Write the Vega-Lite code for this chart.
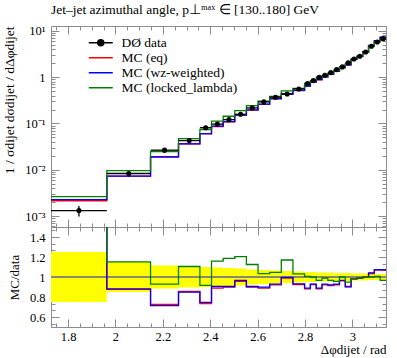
{
  "$schema": "https://vega.github.io/schema/vega-lite/v6.json",
  "autosize": {"type": "pad"},
  "padding": {"left": 2, "top": 2, "right": 13, "bottom": 3},
  "background": "white",
  "title": {"text": "Jet–jet azimuthal angle, p⊥ᵐᵃˣ ∈ [130..180] GeV", "anchor": "start", "frame": "group", "font": "Liberation Serif", "fontSize": 13.5, "fontWeight": "normal", "color": "black", "offset": 8},
  "config": {
    "view": {"stroke": "#8c8c8c", "strokeWidth": 1},
    "axis": {"domain": false, "grid": false, "tickColor": "#8c8c8c", "tickWidth": 1, "labelFont": "Liberation Serif", "labelFontSize": 12.5, "labelColor": "black", "titleFont": "Liberation Serif", "titleFontSize": 13, "titleFontWeight": "normal", "titleColor": "black"}
  },
  "datasets": {
    "h": [
      {"lo":1.7279,"hi":1.9635,"mid":1.8457,"d":0.00131,"dlo":0.00098,"dhi":0.00164,"rlo":0.75,"rhi":1.25,"eq":0.00214,"wz":0.00227,"ll":0.00262,"req":1.63,"rwz":1.73,"rll":2.0},
      {"lo":1.9635,"hi":2.148,"mid":2.0558,"d":0.0083,"dlo":0.00706,"dhi":0.00955,"rlo":0.85,"rhi":1.15,"eq":0.0073,"wz":0.00729,"ll":0.00956,"req":0.88,"rwz":0.878,"rll":1.152},
      {"lo":2.148,"hi":2.266,"mid":2.207,"d":0.0265,"dlo":0.02345,"dhi":0.02955,"rlo":0.885,"rhi":1.115,"eq":0.01924,"wz":0.01889,"ll":0.02462,"req":0.726,"rwz":0.713,"rll":0.929},
      {"lo":2.266,"hi":2.3562,"mid":2.3111,"d":0.0427,"dlo":0.03822,"dhi":0.04718,"rlo":0.895,"rhi":1.105,"eq":0.03651,"wz":0.03621,"ll":0.04718,"req":0.855,"rwz":0.848,"rll":1.105},
      {"lo":2.3562,"hi":2.4053,"mid":2.3808,"d":0.081,"dlo":0.0729,"dhi":0.0891,"rlo":0.9,"rhi":1.1,"eq":0.05937,"wz":0.06043,"ll":0.0742,"req":0.733,"rwz":0.746,"rll":0.916},
      {"lo":2.4053,"hi":2.4544,"mid":2.4299,"d":0.097,"dlo":0.08779,"dhi":0.1062,"rlo":0.905,"rhi":1.095,"eq":0.08614,"wz":0.08779,"ll":0.1124,"req":0.888,"rwz":0.905,"rll":1.159},
      {"lo":2.4544,"hi":2.5035,"mid":2.479,"d":0.121,"dlo":0.1101,"dhi":0.1319,"rlo":0.91,"rhi":1.09,"eq":0.1089,"wz":0.1095,"ll":0.1435,"req":0.9,"rwz":0.905,"rll":1.186},
      {"lo":2.5035,"hi":2.5525,"mid":2.528,"d":0.158,"dlo":0.1446,"dhi":0.1714,"rlo":0.915,"rhi":1.085,"eq":0.151,"wz":0.1526,"ll":0.1901,"req":0.956,"rwz":0.966,"rll":1.203},
      {"lo":2.5525,"hi":2.6016,"mid":2.5771,"d":0.217,"dlo":0.2007,"dhi":0.2333,"rlo":0.925,"rhi":1.075,"eq":0.1953,"wz":0.1964,"ll":0.2441,"req":0.9,"rwz":0.905,"rll":1.125},
      {"lo":2.6016,"hi":2.6507,"mid":2.6262,"d":0.293,"dlo":0.2725,"dhi":0.3135,"rlo":0.93,"rhi":1.07,"eq":0.2602,"wz":0.2631,"ll":0.303,"req":0.888,"rwz":0.898,"rll":1.034},
      {"lo":2.6507,"hi":2.6998,"mid":2.6753,"d":0.37,"dlo":0.346,"dhi":0.3941,"rlo":0.935,"rhi":1.065,"eq":0.3411,"wz":0.3437,"ll":0.3874,"req":0.922,"rwz":0.929,"rll":1.047},
      {"lo":2.6998,"hi":2.7489,"mid":2.7244,"d":0.435,"dlo":0.4089,"dhi":0.4611,"rlo":0.94,"rhi":1.06,"eq":0.4307,"wz":0.4337,"ll":0.509,"req":0.99,"rwz":0.997,"rll":1.17},
      {"lo":2.7489,"hi":2.798,"mid":2.7735,"d":0.558,"dlo":0.5273,"dhi":0.5887,"rlo":0.945,"rhi":1.055,"eq":0.5162,"wz":0.5201,"ll":0.5759,"req":0.925,"rwz":0.932,"rll":1.032},
      {"lo":2.798,"hi":2.8225,"mid":2.8103,"d":0.728,"dlo":0.6916,"dhi":0.7644,"rlo":0.95,"rhi":1.05,"eq":0.6421,"wz":0.6465,"ll":0.7331,"req":0.882,"rwz":0.888,"rll":1.007},
      {"lo":2.8225,"hi":2.8471,"mid":2.8348,"d":0.845,"dlo":0.8028,"dhi":0.8873,"rlo":0.95,"rhi":1.05,"eq":0.7816,"wz":0.785,"ll":0.845,"req":0.925,"rwz":0.929,"rll":1.0},
      {"lo":2.8471,"hi":2.8716,"mid":2.8594,"d":1.0,"dlo":0.955,"dhi":1.045,"rlo":0.955,"rhi":1.045,"eq":0.882,"wz":0.888,"ll":0.966,"req":0.882,"rwz":0.888,"rll":0.966},
      {"lo":2.8716,"hi":2.8962,"mid":2.8839,"d":1.1,"dlo":1.0505,"dhi":1.1495,"rlo":0.955,"rhi":1.045,"eq":1.0142,"wz":1.0219,"ll":1.089,"req":0.922,"rwz":0.929,"rll":0.99},
      {"lo":2.8962,"hi":2.9207,"mid":2.9085,"d":1.26,"dlo":1.2033,"dhi":1.3167,"rlo":0.955,"rhi":1.045,"eq":1.1529,"wz":1.1617,"ll":1.2172,"req":0.915,"rwz":0.922,"rll":0.966},
      {"lo":2.9207,"hi":2.9452,"mid":2.933,"d":1.46,"dlo":1.4016,"dhi":1.5184,"rlo":0.96,"rhi":1.04,"eq":1.3461,"wz":1.3563,"ll":1.3958,"req":0.922,"rwz":0.929,"rll":0.956},
      {"lo":2.9452,"hi":2.9698,"mid":2.9575,"d":1.67,"dlo":1.6032,"dhi":1.7368,"rlo":0.96,"rhi":1.04,"eq":1.6065,"wz":1.6132,"ll":1.67,"req":0.962,"rwz":0.966,"rll":1.0},
      {"lo":2.9698,"hi":2.9943,"mid":2.9821,"d":2.04,"dlo":1.9584,"dhi":2.1216,"rlo":0.96,"rhi":1.04,"eq":1.8462,"wz":1.8401,"ll":1.936,"req":0.905,"rwz":0.902,"rll":0.949},
      {"lo":2.9943,"hi":3.0189,"mid":3.0066,"d":2.48,"dlo":2.3932,"dhi":2.5668,"rlo":0.965,"rhi":1.035,"eq":2.4304,"wz":2.4378,"ll":2.4378,"req":0.98,"rwz":0.983,"rll":0.983},
      {"lo":3.0189,"hi":3.0434,"mid":3.0312,"d":2.84,"dlo":2.7406,"dhi":2.9394,"rlo":0.965,"rhi":1.035,"eq":2.8116,"wz":2.8116,"ll":2.8116,"req":0.99,"rwz":0.99,"rll":0.99},
      {"lo":3.0434,"hi":3.068,"mid":3.0557,"d":3.52,"dlo":3.3968,"dhi":3.6432,"rlo":0.965,"rhi":1.035,"eq":3.52,"wz":3.5094,"ll":3.5094,"req":1.0,"rwz":0.997,"rll":0.997},
      {"lo":3.068,"hi":3.0925,"mid":3.0803,"d":4.68,"dlo":4.5396,"dhi":4.8204,"rlo":0.97,"rhi":1.03,"eq":4.8438,"wz":4.8719,"ll":4.68,"req":1.035,"rwz":1.041,"rll":1.0},
      {"lo":3.0925,"hi":3.117,"mid":3.1048,"d":5.78,"dlo":5.6066,"dhi":5.9534,"rlo":0.97,"rhi":1.03,"eq":6.1846,"wz":6.2077,"ll":5.8205,"req":1.07,"rwz":1.074,"rll":1.007},
      {"lo":3.117,"hi":3.1416,"mid":3.1293,"d":6.82,"dlo":6.6154,"dhi":7.0246,"rlo":0.97,"rhi":1.03,"eq":7.2974,"wz":7.3247,"ll":6.5881,"req":1.07,"rwz":1.074,"rll":0.966}
    ]
  },
  "spacing": 0,
  "bounds": "flush",
  "vconcat": [
    {
      "width": 335,
      "height": 201,
      "data": {"name": "h"},
      "resolve": {"axis": {"x": "independent", "y": "independent"}},
      "layer": [
        {
          "transform": [{"fold": ["lo", "hi"], "as": ["edge", "xpos"]}],
          "mark": {"type": "line", "strokeWidth": 1.3},
          "encoding": {
            "x": {"field": "xpos", "type": "quantitative", "scale": {"domain": [1.7279, 3.1416], "nice": false, "zero": false},
                  "axis": {"orient": "bottom", "values": [1.8, 2, 2.2, 2.4, 2.6, 2.8, 3], "tickSize": -8, "labels": false, "title": null}},
            "y": {"field": "eq", "type": "quantitative", "scale": {"type": "log", "domain": [0.000579, 12.8], "nice": false},
                  "axis": {"orient": "left", "values": [0.001, 0.01, 0.1, 1, 10], "tickSize": -8, "labelPadding": 14,
                           "labelExpr": "datum.value == 1 ? '1' : datum.value == 10 ? '10¹' : datum.value == 0.1 ? '10⁻¹' : datum.value == 0.01 ? '10⁻²' : '10⁻³'",
                           "title": "1 / σdijet dσdijet / dΔφdijet", "titleAnchor": "end", "titlePadding": 8, "titleFontSize": 13.5}},
            "color": {"datum": "MC (eq)", "type": "nominal",
                      "scale": {"domain": ["DØ data", "MC (eq)", "MC (wz-weighted)", "MC (locked_lambda)"], "range": ["#000000", "#ff0000", "#0000ff", "#008000"]},
                      "legend": {"orient": "none", "legendX": 43, "legendY": 10, "title": null, "symbolSize": 64, "symbolStrokeWidth": 1.5, "symbolType": "M-3,0H3",
                                 "labelFont": "Liberation Serif", "labelFontSize": 13.5, "labelColor": "black", "labelOffset": 14, "rowPadding": 0, "labelLimit": 300,
                                 "encode": {"symbols": {"update": {
                                   "shape": {"signal": "datum.value === 'DØ data' ? 'M-3,0H3M-0.75,0A0.75,0.75,0,1,1,0.75,0A0.75,0.75,0,1,1,-0.75,0Z' : 'M-3,0H3'"},
                                   "fill": {"signal": "datum.value === 'DØ data' ? 'black' : 'transparent'"}}}}}}
          }
        },
        {
          "transform": [{"fold": ["lo", "hi"], "as": ["edge", "xpos"]}],
          "mark": {"type": "line", "strokeWidth": 1.3},
          "encoding": {
            "x": {"field": "xpos", "type": "quantitative", "axis": {"orient": "top", "values": [1.8, 2, 2.2, 2.4, 2.6, 2.8, 3], "tickSize": -8, "labels": false, "title": null}},
            "y": {"field": "wz", "type": "quantitative", "axis": {"orient": "right", "values": [0.001, 0.01, 0.1, 1, 10], "tickSize": -8, "labels": false, "title": null}},
            "color": {"datum": "MC (wz-weighted)", "type": "nominal"}
          }
        },
        {
          "transform": [{"fold": ["lo", "hi"], "as": ["edge", "xpos"]}],
          "mark": {"type": "line", "strokeWidth": 1.3},
          "encoding": {
            "x": {"field": "xpos", "type": "quantitative", "axis": {"orient": "bottom", "values": [1.75, 1.85, 1.9, 1.95, 2.05, 2.1, 2.15, 2.25, 2.3, 2.35, 2.45, 2.5, 2.55, 2.65, 2.7, 2.75, 2.85, 2.9, 2.95, 3.05, 3.1], "tickSize": -4, "labels": false, "title": null}},
            "y": {"field": "ll", "type": "quantitative", "axis": {"orient": "left", "values": [0.0006, 0.0007, 0.0008, 0.0009, 0.002, 0.003, 0.004, 0.005, 0.006, 0.007, 0.008, 0.009, 0.02, 0.03, 0.04, 0.05, 0.06, 0.07, 0.08, 0.09, 0.2, 0.3, 0.4, 0.5, 0.6, 0.7, 0.8, 0.9, 2, 3, 4, 5, 6, 7, 8, 9], "tickSize": -4, "labels": false, "title": null}},
            "color": {"datum": "MC (locked_lambda)", "type": "nominal"}
          }
        },
        {
          "mark": {"type": "rule", "strokeWidth": 1.3},
          "encoding": {
            "x": {"field": "lo", "type": "quantitative", "axis": {"orient": "top", "values": [1.75, 1.85, 1.9, 1.95, 2.05, 2.1, 2.15, 2.25, 2.3, 2.35, 2.45, 2.5, 2.55, 2.65, 2.7, 2.75, 2.85, 2.9, 2.95, 3.05, 3.1], "tickSize": -4, "labels": false, "title": null}},
            "x2": {"field": "hi"},
            "y": {"field": "d", "type": "quantitative", "axis": {"orient": "right", "values": [0.0006, 0.0007, 0.0008, 0.0009, 0.002, 0.003, 0.004, 0.005, 0.006, 0.007, 0.008, 0.009, 0.02, 0.03, 0.04, 0.05, 0.06, 0.07, 0.08, 0.09, 0.2, 0.3, 0.4, 0.5, 0.6, 0.7, 0.8, 0.9, 2, 3, 4, 5, 6, 7, 8, 9], "tickSize": -4, "labels": false, "title": null}},
            "color": {"datum": "DØ data", "type": "nominal"}
          }
        },
        {
          "mark": {"type": "rule", "strokeWidth": 1.3},
          "encoding": {
            "x": {"field": "mid", "type": "quantitative", "axis": null},
            "y": {"field": "dlo", "type": "quantitative", "axis": null},
            "y2": {"field": "dhi"},
            "color": {"datum": "DØ data", "type": "nominal"}
          }
        },
        {
          "mark": {"type": "point", "filled": true, "size": 26, "opacity": 1},
          "encoding": {
            "x": {"field": "mid", "type": "quantitative", "axis": null},
            "y": {"field": "d", "type": "quantitative", "axis": null},
            "color": {"datum": "DØ data", "type": "nominal"}
          }
        }
      ]
    },
    {
      "width": 335,
      "height": 100,
      "data": {"name": "h"},
      "resolve": {"axis": {"x": "independent", "y": "independent"}},
      "layer": [
        {
          "mark": {"type": "rect", "color": "#ffff00", "opacity": 1},
          "encoding": {
            "x": {"field": "lo", "type": "quantitative", "scale": {"domain": [1.7279, 3.1416], "nice": false, "zero": false},
                  "axis": {"orient": "bottom", "values": [1.8, 2, 2.2, 2.4, 2.6, 2.8, 3], "format": "~g", "tickSize": -8, "labelPadding": 11, "title": "Δφdijet / rad", "titleAnchor": "end", "titlePadding": 1}},
            "x2": {"field": "hi"},
            "y": {"field": "rlo", "type": "quantitative", "scale": {"domain": [0.5, 1.5], "nice": false, "zero": false},
                  "axis": {"orient": "left", "values": [0.6, 0.8, 1, 1.2, 1.4], "format": "~g", "tickSize": -8, "labelPadding": 14, "title": "MC/data", "titlePadding": 8}},
            "y2": {"field": "rhi"}
          }
        },
        {
          "mark": {"type": "rule", "color": "#8a8a6a", "strokeWidth": 0.8},
          "encoding": {"y": {"datum": 1, "type": "quantitative", "axis": null}}
        },
        {
          "transform": [{"fold": ["lo", "hi"], "as": ["edge", "xpos"]}],
          "mark": {"type": "line", "color": "#ff0000", "strokeWidth": 1.3, "clip": true},
          "encoding": {
            "x": {"field": "xpos", "type": "quantitative", "axis": {"orient": "top", "values": [1.8, 2, 2.2, 2.4, 2.6, 2.8, 3], "tickSize": -8, "labels": false, "title": null}},
            "y": {"field": "req", "type": "quantitative", "axis": {"orient": "right", "values": [0.6, 0.8, 1, 1.2, 1.4], "tickSize": -8, "labels": false, "title": null}}
          }
        },
        {
          "transform": [{"fold": ["lo", "hi"], "as": ["edge", "xpos"]}],
          "mark": {"type": "line", "color": "#0000ff", "strokeWidth": 1.3, "clip": true},
          "encoding": {
            "x": {"field": "xpos", "type": "quantitative", "axis": {"orient": "bottom", "values": [1.75, 1.85, 1.9, 1.95, 2.05, 2.1, 2.15, 2.25, 2.3, 2.35, 2.45, 2.5, 2.55, 2.65, 2.7, 2.75, 2.85, 2.9, 2.95, 3.05, 3.1], "tickSize": -4, "labels": false, "title": null}},
            "y": {"field": "rwz", "type": "quantitative", "axis": {"orient": "left", "values": [0.5333, 0.6667, 0.7333, 0.8667, 0.9333, 1.0667, 1.1333, 1.2667, 1.3333, 1.4667], "tickSize": -4, "labels": false, "title": null}}
          }
        },
        {
          "transform": [{"fold": ["lo", "hi"], "as": ["edge", "xpos"]}],
          "mark": {"type": "line", "color": "#008000", "strokeWidth": 1.3, "clip": true},
          "encoding": {
            "x": {"field": "xpos", "type": "quantitative", "axis": {"orient": "top", "values": [1.75, 1.85, 1.9, 1.95, 2.05, 2.1, 2.15, 2.25, 2.3, 2.35, 2.45, 2.5, 2.55, 2.65, 2.7, 2.75, 2.85, 2.9, 2.95, 3.05, 3.1], "tickSize": -4, "labels": false, "title": null}},
            "y": {"field": "rll", "type": "quantitative", "axis": {"orient": "right", "values": [0.5333, 0.6667, 0.7333, 0.8667, 0.9333, 1.0667, 1.1333, 1.2667, 1.3333, 1.4667], "tickSize": -4, "labels": false, "title": null}}
          }
        }
      ]
    }
  ]
}
